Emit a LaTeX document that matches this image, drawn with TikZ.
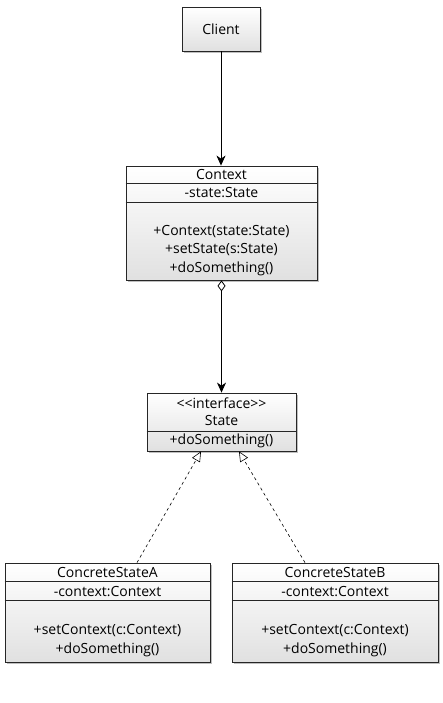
\documentclass[tikz,border=0pt]{standalone}
\usepackage{fontspec}
\setmainfont{Open Sans}
\usetikzlibrary{arrows.meta, shadows}

\begin{document}
\begin{tikzpicture}[x=1pt, y=-1pt, >=stealth, font=\fontsize{14}{16}\selectfont,
  umlbox/.style={draw=black!85, line width=0.8pt, top color=white, bottom color=black!12,
    drop shadow={shadow xshift=2pt, shadow yshift=-2pt, opacity=0.25, fill=black}},
  sep/.style={draw=black!85, line width=0.7pt}]
\useasboundingbox (0,0) rectangle (443,703);
% client
\node[umlbox, minimum width=78, minimum height=44] (client) at (221,29) {Client};
% context
\node[umlbox, minimum width=191, minimum height=114] (context) at (221.5,223) {};
\node at ([yshift=-9]context.north) {Context};
\draw[sep] ([yshift=-18]context.north west) -- ([yshift=-18]context.north east);
\node at ([yshift=-27]context.north) {-state:State};
\draw[sep] ([yshift=-37]context.north west) -- ([yshift=-37]context.north east);
\node at ([yshift=-66]context.north) {+Context(state:State)};
\node at ([yshift=-84]context.north) {+setState(s:State)};
\node at ([yshift=-103]context.north) {+doSomething()};
% state interface
\node[umlbox, minimum width=149, minimum height=58] (state) at (221.5,422) {};
\node at ([yshift=-11]state.north) {<\kern0pt<interface>\kern0pt>};
\node at ([yshift=-28]state.north) {State};
\draw[sep] ([yshift=-39]state.north west) -- ([yshift=-39]state.north east);
\node at ([yshift=-48]state.north) {+doSomething()};
% concrete states
\node[umlbox, minimum width=205, minimum height=99] (stateA) at (107.5,612.5) {};
\node at ([yshift=-10]stateA.north) {ConcreteStateA};
\draw[sep] ([yshift=-19]stateA.north west) -- ([yshift=-19]stateA.north east);
\node at ([yshift=-29]stateA.north) {-context:Context};
\draw[sep] ([yshift=-38]stateA.north west) -- ([yshift=-38]stateA.north east);
\node at ([yshift=-68]stateA.north) {+setContext(c:Context)};
\node at ([yshift=-87]stateA.north) {+doSomething()};
\node[umlbox, minimum width=206, minimum height=99] (stateB) at (335,612.5) {};
\node at ([yshift=-10]stateB.north) {ConcreteStateB};
\draw[sep] ([yshift=-19]stateB.north west) -- ([yshift=-19]stateB.north east);
\node at ([yshift=-29]stateB.north) {-context:Context};
\draw[sep] ([yshift=-38]stateB.north west) -- ([yshift=-38]stateB.north east);
\node at ([yshift=-68]stateB.north) {+setContext(c:Context)};
\node at ([yshift=-87]stateB.north) {+doSomething()};
% connectors
\draw[-{Stealth[length=10pt, width=9pt, inset=3pt]}, line width=0.8pt] (client) -- (client |- context.north);
\draw[{Diamond[open, length=11pt, width=8pt]}-{Stealth[length=10pt, width=9pt, inset=3pt]}, line width=0.8pt] (context.south) -- (state.north);
\draw[dashed, -{Triangle[open, length=10pt, width=9pt]}, line width=0.6pt] ([xshift=29.5]stateA.north) -- ([xshift=-20.5]state.south);
\draw[dashed, -{Triangle[open, length=10pt, width=9pt]}, line width=0.6pt] ([xshift=-30]stateB.north) -- ([xshift=17.5]state.south);
\end{tikzpicture}
\end{document}
